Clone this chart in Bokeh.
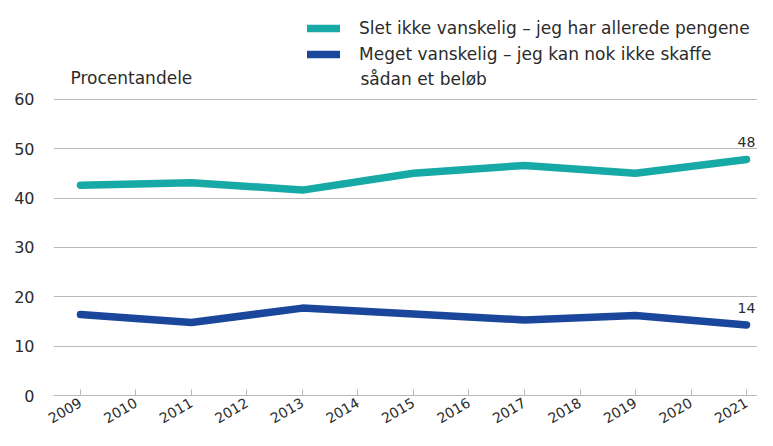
from bokeh.plotting import figure
from bokeh.models import ColumnDataSource, Legend, LegendItem, Label, FixedTicker, Range1d
from bokeh.core.properties import value
from bokeh.embed import file_html
from bokeh.resources import INLINE
import math

# ---- data ----
years = [2009, 2011, 2013, 2015, 2017, 2019, 2021]
slet_ikke = [42.6, 43.1, 41.6, 45.0, 46.6, 45.0, 47.8]
meget = [16.4, 14.8, 17.7, 16.5, 15.3, 16.2, 14.3]
tick_years = list(range(2009, 2022))
y_ticks = [0, 10, 20, 30, 40, 50, 60]
label_slet = "Slet ikke vanskelig – jeg har allerede pengene"
label_meget_1 = "Meget vanskelig – jeg kan nok ikke skaffe"
label_meget_2 = "sådan et beløb"
unit_label = "Procentandele"

TEAL = "#16a9a5"
BLUE = "#1a479b"
TXT = "#2b2b2b"
GRID = "#b8b8b8"
FONT = "DejaVu Sans"

X0, X1 = 2008.514, 2021.198
p = figure(width=757, height=430, output_backend="svg", toolbar_location=None,
           x_range=Range1d(X0, X1), y_range=Range1d(0, 80.0),
           min_border_left=53, min_border_right=0, min_border_top=0, min_border_bottom=34)
p.outline_line_color = None
p.background_fill_color = "white"

src1 = ColumnDataSource(dict(x=years, y=slet_ikke))
src2 = ColumnDataSource(dict(x=years, y=meget))
r1 = p.line("x", "y", source=src1, line_color=TEAL, line_width=7.5, line_cap="round", line_join="round")
r2 = p.line("x", "y", source=src2, line_color=BLUE, line_width=7.5, line_cap="round", line_join="round")

# end labels
end_src = ColumnDataSource(dict(x=[years[-1], years[-1]], y=[slet_ikke[-1], meget[-1]],
                                t=[str(round(slet_ikke[-1])), str(round(meget[-1]))]))
p.text("x", "y", text="t", source=end_src, text_align="center", text_baseline="bottom",
       y_offset=-12, text_font=value(FONT), text_font_size="14px", text_color=TXT)

# axes
p.xaxis.ticker = FixedTicker(ticks=tick_years)
p.xaxis.major_label_orientation = math.pi / 6
p.xaxis.axis_line_color = GRID
p.xaxis.axis_line_width = 1.2
p.xaxis.major_tick_line_color = GRID
p.xaxis.major_tick_in = 6
p.xaxis.major_tick_out = 0
p.xaxis.minor_tick_line_color = None
p.xaxis.major_label_standoff = 6
p.xaxis.major_label_text_font = FONT
p.xaxis.major_label_text_font_size = "14px"
p.xaxis.major_label_text_color = TXT

p.yaxis.ticker = FixedTicker(ticks=y_ticks)
p.yaxis.axis_line_color = None
p.yaxis.major_tick_line_color = None
p.yaxis.minor_tick_line_color = None
p.yaxis.major_label_standoff = 13
p.yaxis.major_label_text_font = FONT
p.yaxis.major_label_text_font_size = "16px"
p.yaxis.major_label_text_color = TXT

p.xgrid.grid_line_color = None
p.ygrid.grid_line_color = GRID
p.ygrid.grid_line_width = 1.2

# unit label
p.add_layout(Label(x=2008.82, y=64.4, text=unit_label, text_font=FONT, text_font_size="17px",
                   text_color=TXT, text_baseline="middle", text_align="left"))

legend = Legend(items=[LegendItem(label=label_slet, renderers=[r1]),
                       LegendItem(label=label_meget_1, renderers=[r2])],
                location=(254, 331))
legend.label_text_font = FONT
legend.label_text_font_size = "17px"
legend.label_text_color = TXT
legend.glyph_width = 33
legend.glyph_height = 20
legend.label_standoff = 19
legend.padding = 0
legend.margin = 0
legend.spacing = 6
legend.border_line_color = None
legend.background_fill_alpha = 0
p.add_layout(legend, "center")

# second line of the second legend entry
p.add_layout(Label(x=2014.045, y=64.1, text=label_meget_2, text_font=FONT, text_font_size="17px",
                   text_color=TXT, text_baseline="middle", text_align="left"))

open("out.html", "w").write(file_html(p, INLINE))
